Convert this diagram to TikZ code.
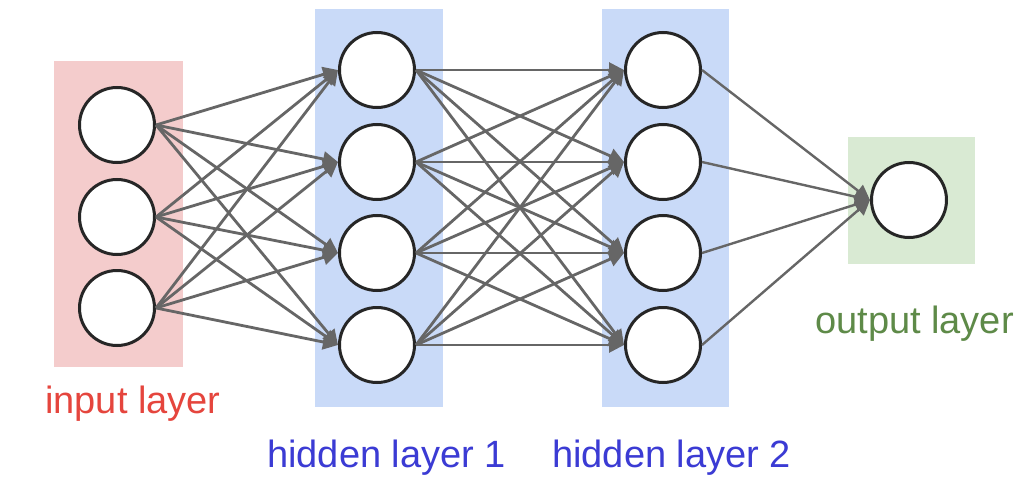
\documentclass[tikz,border=0pt]{standalone}
\usepackage{fontspec}
\setmainfont{Liberation Sans}
\usetikzlibrary{arrows.meta}
\definecolor{inbg}{HTML}{F4CCCC}
\definecolor{hidbg}{HTML}{C9DAF8}
\definecolor{outbg}{HTML}{D9EAD3}
\definecolor{intext}{HTML}{E5453D}
\definecolor{hidtext}{HTML}{3B3BD4}
\definecolor{outtext}{HTML}{5E8A48}
\definecolor{edgegray}{HTML}{666666}
\definecolor{ringcol}{HTML}{262626}
\begin{document}
\begin{tikzpicture}[x=1pt,y=-1pt,
  neuron/.style={circle,draw=ringcol,line width=3pt,fill=white,minimum size=75pt,inner sep=0pt},
  layerbox/.style={rectangle,inner sep=0pt,draw=none},
  conn/.style={draw=edgegray,line width=2.8pt,-{Triangle[length=15pt,width=15pt]}},
  lbl/.style={inner sep=0pt,anchor=base west,font=\fontsize{38}{40}\selectfont}]
\useasboundingbox[fill=white] (0,0) rectangle (1031,503);
% layer backgrounds
\node[layerbox,fill=inbg,minimum width=129pt,minimum height=306pt] (bin) at (118.5,214) {};
\node[layerbox,fill=hidbg,minimum width=128pt,minimum height=398pt] (bh1) at (379,208) {};
\node[layerbox,fill=hidbg,minimum width=127pt,minimum height=398pt] (bh2) at (665.5,208) {};
\node[layerbox,fill=outbg,minimum width=127pt,minimum height=127pt] (bout) at (911.5,200.5) {};
% neurons
\node[neuron] (i1) at (117,125) {};
\node[neuron] (i2) at (117,217) {};
\node[neuron] (i3) at (117,308) {};
\node[neuron] (a1) at (377,70) {};
\node[neuron] (a2) at (377,162) {};
\node[neuron] (a3) at (377,253) {};
\node[neuron] (a4) at (377,345) {};
\node[neuron] (b1) at (663,70) {};
\node[neuron] (b2) at (663,162) {};
\node[neuron] (b3) at (663,253) {};
\node[neuron] (b4) at (663,345) {};
\node[neuron] (o1) at (909,200) {};
% connections
\foreach \s in {i1,i2,i3}{\foreach \t in {a1,a2,a3,a4}{\draw[conn] (\s.east) -- (\t.west);}}
\foreach \s in {a1,a2,a3,a4}{\foreach \t in {b1,b2,b3,b4}{\draw[conn] (\s.east) -- (\t.west);}}
\foreach \s in {b1,b2,b3,b4}{\draw[conn,line width=2.4pt] (\s.east) -- (o1.west);}
% labels
\node[lbl,text=intext] (lin) at (45,413) {input layer};
\node[lbl,text=hidtext] (lh1) at (267,467) {hidden layer 1};
\node[lbl,text=hidtext] (lh2) at (552,467) {hidden layer 2};
\node[lbl,text=outtext] (lout) at (815,333) {output layer};
\end{tikzpicture}
\end{document}
